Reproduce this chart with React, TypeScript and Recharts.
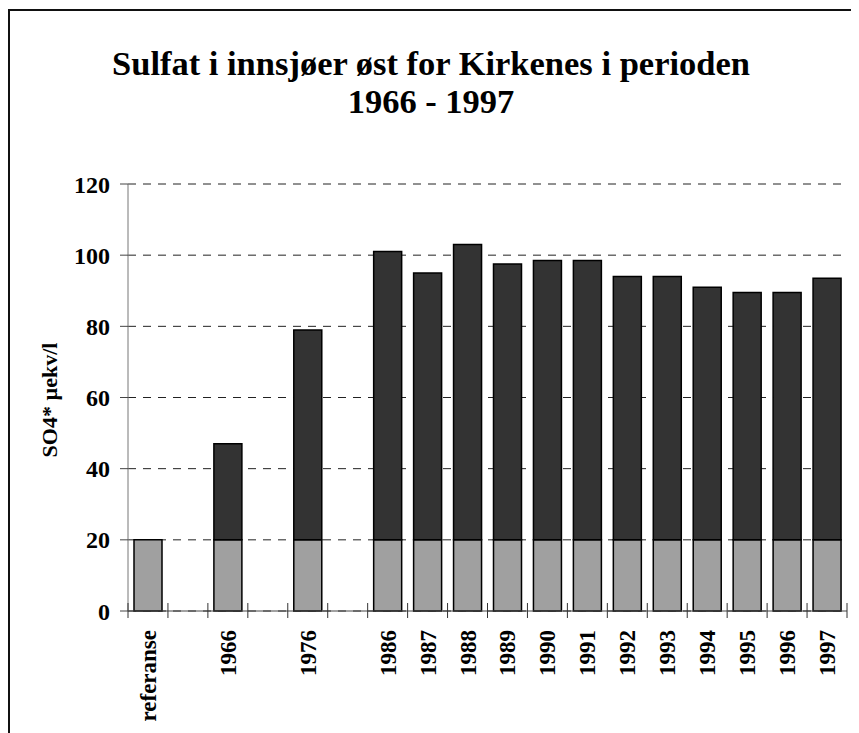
import { Bar, BarChart, CartesianGrid, XAxis, YAxis } from "recharts";

const categories = [
  "referanse", "", "1966", "", "1976", "",
  "1986", "1987", "1988", "1989", "1990", "1991",
  "1992", "1993", "1994", "1995", "1996", "1997",
];
// total SO4* per category (null = empty gap slot)
const totals = [
  20, null, 47, null, 79, null,
  101, 95, 103, 97.5, 98.5, 98.5,
  94, 94, 91, 89.5, 89.5, 93.5,
];
// reference (background) level
const reference = [
  20, null, 20, null, 20, null,
  20, 20, 20, 20, 20, 20,
  20, 20, 20, 20, 20, 20,
];
const yTicks = [0, 20, 40, 60, 80, 100, 120];

const data = categories.map((name, i) => ({
  name,
  base: reference[i],
  excess: totals[i] == null ? null : (totals[i] as number) - (reference[i] as number) || null,
}));

const W = 851;
const H = 725;
const LEFT = 120;
const RIGHT = 12;
const HALF = (W - LEFT - RIGHT) / categories.length / 2;
const serif = '"Liberation Serif", "Times New Roman", serif';

function XTick(props: any) {
  const { x, y, payload, index } = props;
  const last = index === categories.length - 1;
  return (
    <g>
      <line x1={x - HALF} x2={x - HALF} y1={y - 8} y2={y + 7} stroke="#333" strokeWidth={1} />
      {last && (
        <line x1={x + HALF} x2={x + HALF} y1={y - 8} y2={y + 7} stroke="#333" strokeWidth={1} />
      )}
      {payload.value && (
        <text
          transform={`translate(${x + 8},${y + 19}) rotate(-90)`}
          textAnchor="end"
          fontFamily={serif}
          fontWeight="bold"
          fontSize={23}
          fill="#000"
        >
          {payload.value}
        </text>
      )}
    </g>
  );
}

export default function App() {
  return (
    <div
      style={{
        position: "relative",
        width: W,
        height: H,
        marginTop: 1,
        borderTop: "2px solid #111",
        borderLeft: "2px solid #111",
        boxSizing: "border-box",
        fontFamily: serif,
      }}
    >
      <div
        style={{
          position: "absolute",
          left: 0,
          top: 33,
          width: 842,
          textAlign: "center",
          fontWeight: "bold",
          fontSize: 34.5,
          lineHeight: "38px",
        }}
      >
        Sulfat i innsjøer øst for Kirkenes i perioden
        <br />
        1966 - 1997
      </div>
      <div
        style={{
          position: "absolute",
          left: 40,
          top: 389,
          transform: "translate(-50%, -50%) rotate(-90deg)",
          whiteSpace: "nowrap",
          fontWeight: "bold",
          fontSize: 22,
        }}
      >
        SO4* µekv/l
      </div>
      <div style={{ position: "absolute", left: -2, top: -3 }}>
        <BarChart
          width={W}
          height={H}
          data={data}
          margin={{ top: 176, right: RIGHT, left: 0, bottom: 0 }}
          barSize={28}
        >
          <CartesianGrid horizontal vertical={false} stroke="#222" strokeDasharray="8 7" />
          <XAxis
            dataKey="name"
            height={122}
            tickSize={0}
            tickMargin={0}
            interval={0}
            tick={<XTick />}
            axisLine={{ stroke: "#444" }}
          />
          <YAxis
            width={LEFT}
            domain={[0, 120]}
            ticks={yTicks}
            tickSize={8}
            tickMargin={10}
            axisLine={{ stroke: "#777" }}
            tickLine={{ stroke: "#444" }}
            tick={{ fontFamily: serif, fontWeight: "bold", fontSize: 24, fill: "#000" }}
          />
          <Bar dataKey="base" stackId="a" fill="#a0a0a0" stroke="#000" strokeWidth={1.5} isAnimationActive={false} />
          <Bar dataKey="excess" stackId="a" fill="#333333" stroke="#000" strokeWidth={1.5} isAnimationActive={false} />
        </BarChart>
      </div>
    </div>
  );
}
